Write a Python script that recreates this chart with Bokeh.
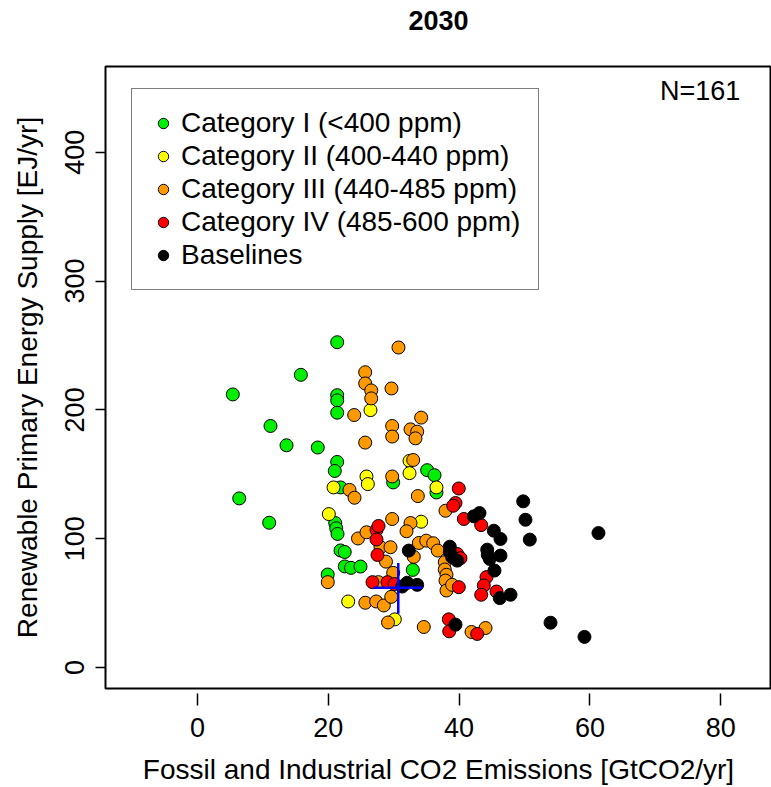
from bokeh.plotting import figure
from bokeh.models import Range1d, FixedTicker, Legend, LegendItem, Label, LinearAxis
from bokeh.embed import file_html
from bokeh.resources import INLINE

# ---- data ----
green_x = [21.36, 15.80, 5.40, 21.36, 21.36, 21.36, 11.16, 13.61, 18.39, 21.36, 20.99, 35.12, 36.24, 21.87,
           29.92, 36.54, 6.38, 10.96, 21.06, 21.21, 21.41, 21.87, 22.51, 22.52, 23.47, 24.92, 19.91, 32.92]
green_y = [252.5, 227.2, 212.0, 211.4, 207.4, 197.8, 187.5, 172.5, 170.8, 159.6, 152.6, 153.2, 149.3, 139.8,
           143.7, 135.9, 131.3, 112.4, 112.2, 108.1, 103.7, 90.9, 89.7, 78.5, 77.4, 78.4, 72.2, 75.8]

yellow_x = [26.45, 25.84, 26.04, 20.80, 20.08, 23.04, 32.42, 32.42, 36.54, 34.20, 30.17]
yellow_y = [199.8, 148.3, 142.4, 139.8, 119.1, 51.3, 160.4, 150.9, 139.8, 113.2, 37.4]

orange_x = [25.64, 25.64, 26.56, 26.56, 23.96, 25.64, 34.20, 29.77, 29.77, 32.57, 33.59, 33.33, 32.98, 29.77,
            33.69, 23.24, 24.01, 30.73, 29.66, 24.54, 25.84, 27.98, 28.82, 19.92, 27.65, 25.66, 27.32, 28.49,
            29.13, 32.57, 31.96, 29.77, 33.84, 34.97, 36.04, 36.74, 29.51, 33.07, 37.81, 37.81, 38.07, 37.92,
            38.07, 38.94, 29.92, 29.62, 34.60, 41.90, 44.04, 37.92]
orange_y = [229.2, 220.5, 215.1, 208.9, 196.0, 174.6, 194.0, 187.5, 179.3, 184.9, 183.1, 177.9, 161.1, 148.3,
            133.1, 137.9, 131.8, 248.4, 216.6, 100.2, 105.0, 93.4, 82.2, 66.3, 66.3, 50.3, 51.3, 48.2,
            35.0, 112.2, 105.8, 115.3, 96.7, 98.5, 96.5, 90.8, 93.4, 85.9, 81.8, 76.1, 72.0, 67.5,
            59.8, 64.2, 73.5, 54.9, 31.5, 27.6, 30.7, 121.7]

red_x = [27.37, 27.68, 27.37, 27.52, 26.76, 29.05, 30.12, 39.95, 39.45, 39.10, 40.72, 43.38, 39.71, 40.21,
         39.95, 44.19, 43.78, 43.38, 45.72, 38.43, 38.49, 42.77]
red_y = [106.8, 109.9, 99.4, 87.4, 66.3, 66.3, 64.8, 139.0, 127.7, 125.6, 115.3, 110.6, 88.2, 84.9,
         62.4, 70.2, 63.7, 56.5, 59.0, 37.4, 28.1, 26.1]

black_x = [49.80, 43.12, 42.25, 50.15, 45.31, 46.33, 50.81, 61.31, 38.58, 38.58, 38.94, 39.71, 32.31, 44.30,
           44.39, 44.69, 46.33, 45.41, 47.86, 46.22, 31.30, 32.06, 33.59, 39.45, 53.98, 59.17]
black_y = [129.0, 119.9, 117.4, 114.7, 106.2, 99.8, 99.3, 104.4, 93.8, 89.5, 85.6, 83.0, 90.8, 91.5,
           87.4, 84.3, 86.9, 75.3, 56.5, 53.9, 62.9, 65.8, 64.2, 33.3, 34.8, 23.8]

# historical reference cross: centre and range
ref_x = 30.7
ref_y = 61.9
ref_x_range = [26.9, 34.4]
ref_y_range = [41.8, 81.2]

series_names = ["Category I (<400 ppm)", "Category II (400-440 ppm)", "Category III (440-485 ppm)",
                "Category IV (485-600 ppm)", "Baselines"]
series_colors = ["#00EE00", "#FFFF00", "#FF9900", "#FF0000", "#000000"]

x_ticks = [0, 20, 40, 60, 80]
y_ticks = [0, 100, 200, 300, 400]
n_text = "N=161"
title_text = "2030"

FONT = "Liberation Sans"

p = figure(width=771, height=787, output_backend="svg", toolbar_location=None,
           x_range=Range1d(-14.07, 87.77), y_range=Range1d(-16.25, 466.5),
           min_border_left=105, min_border_right=0, min_border_top=66, min_border_bottom=97)

p.xgrid.visible = False
p.ygrid.visible = False
p.outline_line_color = "black"
p.outline_line_width = 2
p.background_fill_color = "white"
p.border_fill_color = "white"

for ax in (p.xaxis[0], p.yaxis[0]):
    ax.axis_line_color = None
    ax.minor_tick_line_color = None
    ax.major_tick_line_color = "black"
    ax.major_tick_line_width = 1.5
    ax.major_label_text_font = FONT
    ax.major_label_text_font_size = "27px"
    ax.major_label_text_color = "black"
    ax.axis_label_text_font = FONT
    ax.axis_label_text_font_size = "28px"
    ax.axis_label_text_font_style = "normal"
    ax.axis_label_text_color = "black"

p.xaxis.ticker = FixedTicker(ticks=x_ticks)
p.yaxis.ticker = FixedTicker(ticks=y_ticks)
p.xaxis.major_tick_in = -5
p.xaxis.major_tick_out = 17
p.xaxis.major_label_standoff = 12
p.xaxis.axis_label = "Fossil and Industrial CO2 Emissions [GtCO2/yr]"
p.xaxis.axis_label_standoff = 14

p.yaxis.major_tick_in = 0
p.yaxis.major_tick_out = 10
p.yaxis.major_label_orientation = "vertical"
p.yaxis.major_label_standoff = 11
p.yaxis.axis_label = "Renewable Primary Energy Supply [EJ/yr]"
p.yaxis.axis_label_standoff = 20

# main title, carried by a bare axis above the frame
title_axis = LinearAxis(ticker=FixedTicker(ticks=[]), axis_label=title_text,
                        axis_line_color=None, major_tick_line_color=None, minor_tick_line_color=None,
                        major_tick_out=0, major_tick_in=0, major_label_standoff=0,
                        axis_label_standoff=37, axis_label_text_font=FONT,
                        axis_label_text_font_size="27px", axis_label_text_font_style="bold",
                        axis_label_text_color="black")
p.add_layout(title_axis, "above")

renderers = []
for xs, ys, c in zip([green_x, yellow_x, orange_x, red_x, black_x],
                     [green_y, yellow_y, orange_y, red_y, black_y], series_colors):
    r = p.scatter(x=xs, y=ys, size=13, fill_color=c, line_color="black", line_width=1)
    renderers.append(r)

# reference cross
p.segment(x0=[ref_x_range[0], ref_x], y0=[ref_y, ref_y_range[0]],
          x1=[ref_x_range[1], ref_x], y1=[ref_y, ref_y_range[1]],
          line_color="#0000FF", line_width=2.5)

legend = Legend(items=[LegendItem(label=n, renderers=[r]) for n, r in zip(series_names, renderers)],
                location=(26, 398))
legend.label_text_font = FONT
legend.label_text_font_size = "28px"
legend.label_text_color = "black"
legend.border_line_color = "black"
legend.border_line_width = 1
legend.background_fill_color = "white"
legend.background_fill_alpha = 1
legend.padding = 18
legend.spacing = 1
legend.glyph_width = 26
legend.glyph_height = 26
legend.label_height = 26
legend.label_standoff = 5
legend.margin = 0
p.add_layout(legend, "center")

p.add_layout(Label(x=83.0, y=459.0, text=n_text, text_align="right", text_baseline="top",
                   text_font=FONT, text_font_size="27px", text_color="black"))

open("out.html", "w").write(file_html(p, INLINE))
